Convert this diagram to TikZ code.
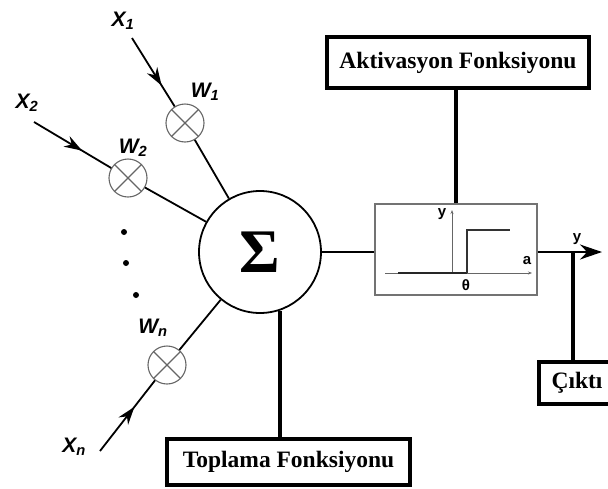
\documentclass[tikz,border=0pt]{standalone}
\usepackage{fontspec}
\setmainfont{Liberation Serif}
\setsansfont{Liberation Sans}
\usetikzlibrary{arrows.meta,decorations.markings}

\tikzset{
  lbl/.style={font=\sffamily\bfseries\itshape\fontsize{21}{21}\selectfont},
  small/.style={font=\sffamily\bfseries\fontsize{15}{15}\selectfont},
  mult/.style={circle, draw=black!60, line width=1.1pt, minimum size=38pt, inner sep=0pt,
    path picture={\draw[black!60, line width=1.1pt]
      (path picture bounding box.north west) -- (path picture bounding box.south east)
      (path picture bounding box.north east) -- (path picture bounding box.south west);}},
  input/.style={line width=1.8pt, postaction={decorate},
    decoration={markings, mark=at position 56pt with {\arrow{Stealth[length=18pt,width=12pt]}}}},
  conn/.style={line width=1.8pt},
  pole/.style={line width=3.8pt},
  fbox/.style={draw, line width=3.8pt, inner sep=0pt,
    font=\bfseries\fontsize{23.5}{28}\selectfont},
}

\begin{document}
\begin{tikzpicture}[x=1pt, y=-1pt]
    \useasboundingbox (0,0) rectangle (608,488);

    % Inputs and weights
    \node[lbl] (x1) at (123,21) {X\textsubscript{1}};
    \node[lbl] (x2) at (27,103) {X\textsubscript{2}};
    \node[lbl] (xn) at (74,447) {X\textsubscript{n}};
    \node[lbl] (l1) at (205,92) {W\textsubscript{1}};
    \node[lbl] (l2) at (133,148) {W\textsubscript{2}};
    \node[lbl] (ln) at (153,328) {W\textsubscript{n}};
    \coordinate (s1) at (132,38);
    \coordinate (s2) at (34,122);
    \coordinate (sn) at (100,451);
    \node[mult] (w1) at (185,123) {};
    \node[mult] (w2) at (128,178) {};
    \node[mult] (wn) at (167,365) {};
    \fill (124,232) circle (3pt);
    \fill (126,263) circle (3pt);
    \fill (136,295) circle (3pt);

    % Summation
    \node[circle, draw, line width=1.8pt, minimum size=122pt, inner sep=0pt,
      font=\bfseries\fontsize{62}{62}\selectfont] (sum) at (260,252) {Σ};
    \draw[input] (s1) -- (w1);
    \draw[input] (s2) -- (w2);
    \draw[input] (sn) -- (wn);
    \draw[conn] (w1) -- (sum);
    \draw[conn] (w2) -- (sum);
    \draw[conn] (wn) -- (sum);

    % Step function
    \node[draw=black!55, line width=1.2pt, minimum width=162pt, minimum height=91pt] (act) at (456,249.5) {};
    \draw[black!60, line width=0.8pt, -{Stealth[length=4pt,width=3pt]}] (385,273) -- (532,273);
    \draw[black!60, line width=0.8pt, -{Stealth[length=4pt,width=3pt]}] (452,273) -- (452,210);
    \draw[black!85, line width=2.2pt] (398,273) -- (467,273);
    \draw[black!80, line width=1.3pt] (467,273) -- (467,230) -- (510,230);
    \node[small] (ya) at (442,214) {y};
    \node[small] (aa) at (527,261) {a};
    \node[small] (th) at (466,285) {θ};
    \draw[conn] (sum.east) -- (sum.east -| act.west);

    % Output
    \coordinate (out) at (602,252);
    \coordinate (tap) at (573,252);
    \draw[conn, -{Stealth[length=22pt,width=15pt]}] (act.east |- out) -- (out);
    \node[small] (yo) at (577,239) {y};

    % Captions
    \node[fbox, minimum width=262pt, minimum height=51pt] (akt) at (458,62.5) {Aktivasyon Fonksiyonu};
    \node[fbox, minimum width=243pt, minimum height=46pt] (topl) at (288.5,462) {Toplama Fonksiyonu};
    \node[fbox, minimum width=76pt, minimum height=42pt] (cikti) at (577,383) {Çıktı};
    \draw[pole] (act.north |- akt.south) -- (act.north);
    \draw[pole] (sum.-71) -- (sum.-71 |- topl.north);
    \draw[pole] (tap) -- (tap |- cikti.north);
\end{tikzpicture}
\end{document}
